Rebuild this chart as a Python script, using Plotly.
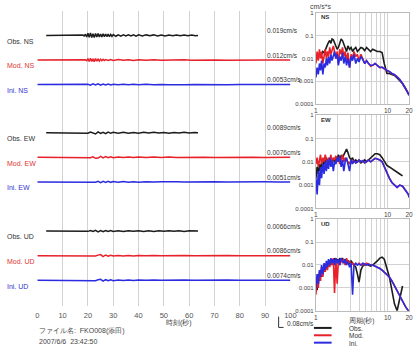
import plotly.graph_objects as go

W, H = 420, 355
FONT = "Arial, Liberation Sans, sans-serif"
BLACK, RED, BLUE = "#1c1c1c", "#e8202a", "#2b2be0"
GRID = "#d2d2d2"

# ---------------- waveform data (values in 0.001 cm/s) ----------------
T_OBS_NS = [3.5, 12, 17, 18, 18.5, 19, 19.5, 20, 20.5, 21, 21.5, 22, 22.5, 23, 23.5, 24, 24.5, 25, 25.5,
            26, 26.5, 27, 27.5, 28, 28.5, 29, 29.5, 30, 31, 32, 33, 34, 35, 36, 37, 38, 39, 40, 41.5, 43,
            44.5, 46, 47.5, 49, 50.5, 52, 53.5, 55, 56.5, 58, 59.5, 61, 62.5, 63.5]
V_OBS_NS = [0, 1, -1, 3, -4, 9, -12, 16, -13, 19, -15, 13, -16, 14, -11, 14, -12, 11, -12, 12, -9, 10,
            -8, 9, -8, 8, -7, 6, -6, 5, -5, 5, -4, 5, -4, 4, -5, 4, -4, 4, -3, 4, -4, 3, -4, 3, -3, 4,
            -3, 3, -3, 3, -2, 0]
T_MOD_NS = [0, 10, 18, 19, 19.5, 20, 20.5, 21, 21.5, 22, 22.5, 23, 23.5, 24, 24.5, 25, 25.5, 26, 26.5,
            27, 28, 29, 30, 32, 34, 36, 38, 40, 43, 46, 49, 52, 55, 58, 61, 64, 67, 70, 75, 80, 85, 90,
            95, 100]
V_MOD_NS = [0, 1, -1, 2, -5, 8, -11, 12, -10, 9, -12, 10, -8, 7, -8, 6, -5, 5, -4, 3, -3, 3, -3, 3, -2,
            2, -3, 2, -2, 2, -2, 1, -1, 2, -1, 1, -1, 1, -1, 1, -1, 1, 0, 0]
T_LONG = [0, 10, 18, 20, 21, 22, 23, 24, 25, 26, 27, 28, 29, 30, 32, 34, 36, 38, 40, 43, 46, 49, 52, 55,
          58, 62, 66, 70, 75, 80, 85, 90, 95, 100]
V_INI_NS = [0, 1, -1, 2, -4, 5, -3, 5, -5, 4, -3, 4, -3, 3, -2, 3, -2, 2, -2, 2, -2, 1, -2, 1, -1, 1,
            -1, 1, -1, 1, -1, 1, 0, 0]
T_OBS_EW = [3.5, 12, 17, 19, 20, 21, 22, 23, 24, 25, 26, 27, 28, 29, 30, 32, 34, 36, 38, 40, 42, 44, 46,
            48, 50, 52, 54, 56, 58, 60, 62, 63.5]
V_OBS_EW = [0, 1, -1, 2, -3, 5, -4, -9, 6, -5, 4, -6, 5, -4, 3, -3, 3, -3, 2, -3, 3, -2, 3, -2, 2, -3,
            2, -2, 3, -2, 2, 0]
V_MOD_EW = [0, 1, -1, 2, -3, 4, -7, -5, 7, -4, 5, -3, 4, -3, 3, -2, 3, -2, 2, -2, 2, -1, 2, -1, 1, -1,
            1, -1, 1, -1, 1, -1, 0, 0]
V_INI_EW = [0, 1, -1, 1, -2, 3, -2, 4, -5, 4, -4, 5, -3, 3, -2, 3, -2, 2, -2, 2, -1, 2, -1, 1, -1, 1,
            -1, 1, -1, 1, -1, 1, 0, 0]
V_OBS_UD = [0, 1, -1, 2, -2, 4, -3, 5, -6, 4, -5, 4, -3, 4, -3, 3, -3, 3, -2, 3, -3, 2, -3, 2, -2, 3,
            -2, 2, -3, 2, -2, 0]
V_MOD_UD = [0, 1, -1, 1, -2, 2, -3, 4, 8, -7, 5, -4, 3, -3, 2, -2, 2, -2, 2, -1, 2, -1, 1, -1, 1, -1,
            1, -1, 1, -1, 1, -1, 0, 0]
V_INI_UD = [0, 1, -1, 1, -2, 2, -3, 3, 7, -6, 4, -4, 3, -3, 2, -2, 2, -2, 2, -1, 2, -1, 1, -1, 1, -1,
            1, -1, 1, -1, 1, -1, 0, 0]

ROW_NAMES = ["Obs. NS", "Mod. NS", "Ini. NS", "Obs. EW", "Mod. EW", "Ini. EW", "Obs. UD", "Mod. UD", "Ini. UD"]
ROW_AMPS = ["0.019cm/s", "0.012cm/s", "0.0053cm/s", "0.0089cm/s", "0.0076cm/s", "0.0051cm/s",
            "0.0066cm/s", "0.0086cm/s", "0.0074cm/s"]
ROW_T = [T_OBS_NS, T_MOD_NS, T_LONG, T_OBS_EW, T_LONG, T_LONG, T_OBS_EW, T_LONG, T_LONG]
ROW_V = [V_OBS_NS, V_MOD_NS, V_INI_NS, V_OBS_EW, V_MOD_EW, V_INI_EW, V_OBS_UD, V_MOD_UD, V_INI_UD]
TIME_TICKS = [0, 10, 20, 30, 40, 50, 60, 70, 80, 90, 100]
SCALE_BAR = 80  # 0.08 cm/s in 0.001 cm/s

# ---------------- spectra ----------------
PERIOD = [1.0, 1.04, 1.08, 1.12, 1.16, 1.2, 1.25, 1.3, 1.35, 1.4, 1.45, 1.5, 1.56, 1.62, 1.68, 1.75, 1.82,
          1.9, 1.98, 2.06, 2.15, 2.25, 2.35, 2.45, 2.56, 2.68, 2.8, 2.95, 3.1, 3.25, 3.4, 3.6, 3.8, 4.0,
          4.25, 4.5, 4.8, 5.1, 5.4, 5.8, 6.2, 6.7, 7.2, 7.8, 8.4, 9.0, 9.8, 10.6, 11.5, 12.5, 13.6, 14.8,
          16.2, 17.8, 19.5, 20]
NS_OBS = [0.008, 0.012, 0.015, 0.012, 0.018, 0.015, 0.02, 0.017, 0.025, 0.03, 0.04, 0.05, 0.06, 0.045,
          0.07, 0.065, 0.05, 0.035, 0.025, 0.03, 0.05, 0.07, 0.06, 0.04, 0.03, 0.02, 0.035, 0.025, 0.03,
          0.02, 0.025, 0.03, 0.02, 0.025, 0.03, 0.028, 0.022, 0.03, 0.025, 0.02, 0.025, 0.022, 0.02, 0.02,
          0.018, 0.006, 0.0022, 0.0022, 0.002, 0.0018, 0.0014, 0.0011, 0.0008, 0.0005, 0.0003, 0.00025]
NS_MOD = [0.006, 0.02, 0.008, 0.025, 0.01, 0.02, 0.006, 0.015, 0.025, 0.01, 0.02, 0.012, 0.03, 0.015,
          0.025, 0.035, 0.02, 0.01, 0.02, 0.006, 0.025, 0.015, 0.03, 0.012, 0.02, 0.008, 0.018, 0.004,
          0.015, 0.01, 0.02, 0.012, 0.015, 0.008, 0.015, 0.01, 0.006, 0.008, 0.006, 0.0045, 0.005, 0.006,
          0.005, 0.004, 0.004, 0.0035, 0.003, 0.0027, 0.0022, 0.002, 0.0016, 0.0012, 0.0008, 0.0005,
          0.0003, 0.00025]
NS_INI = [0.0015, 0.004, 0.002, 0.006, 0.003, 0.008, 0.002, 0.006, 0.004, 0.01, 0.005, 0.012, 0.006,
          0.015, 0.008, 0.012, 0.02, 0.01, 0.015, 0.005, 0.012, 0.008, 0.018, 0.006, 0.012, 0.005, 0.01,
          0.004, 0.012, 0.008, 0.015, 0.006, 0.01, 0.007, 0.012, 0.009, 0.006, 0.008, 0.006, 0.005, 0.005,
          0.006, 0.005, 0.004, 0.0042, 0.0035, 0.003, 0.0027, 0.0022, 0.002, 0.0016, 0.0012, 0.0008,
          0.0005, 0.0003, 0.00025]
EW_OBS = [0.002, 0.006, 0.003, 0.008, 0.004, 0.01, 0.005, 0.012, 0.008, 0.015, 0.01, 0.012, 0.008, 0.015,
          0.01, 0.014, 0.009, 0.016, 0.012, 0.02, 0.014, 0.018, 0.015, 0.02, 0.025, 0.035, 0.025, 0.015,
          0.012, 0.015, 0.01, 0.012, 0.01, 0.011, 0.009, 0.01, 0.012, 0.01, 0.012, 0.015, 0.018, 0.022,
          0.022, 0.02, 0.015, 0.01, 0.007, 0.006, 0.005, 0.004, 0.0035, 0.003, 0.0025, None, None, None]
EW_MOD = [0.008, 0.015, 0.006, 0.012, 0.02, 0.008, 0.015, 0.01, 0.02, 0.012, 0.008, 0.015, 0.01, 0.02,
          0.008, 0.015, 0.012, 0.018, 0.01, 0.015, 0.008, 0.012, 0.02, 0.01, 0.015, 0.012, 0.01, 0.008,
          0.012, 0.01, 0.011, 0.009, 0.01, 0.012, 0.01, 0.011, 0.009, 0.01, 0.012, 0.01, 0.012, 0.014,
          0.013, 0.012, 0.01, 0.006, 0.003, 0.002, 0.0013, 0.001, 0.0008, 0.001, 0.0009, 0.0006, 0.0004,
          0.0003]
EW_INI = [0.002, 0.0004, 0.004, 0.001, 0.006, 0.002, 0.008, 0.003, 0.01, 0.004, 0.012, 0.005, 0.015,
          0.006, 0.012, 0.004, 0.01, 0.008, 0.015, 0.01, 0.018, 0.006, 0.012, 0.004, 0.01, 0.015, 0.008,
          0.004, 0.012, 0.008, 0.011, 0.009, 0.01, 0.012, 0.01, 0.011, 0.009, 0.01, 0.012, 0.01, 0.012,
          0.014, 0.013, 0.012, 0.01, 0.006, 0.003, 0.002, 0.0013, 0.001, 0.0008, 0.001, 0.0009, 0.0006,
          0.0004, 0.0003]
UD_OBS = [0.002, 0.0008, 0.004, 0.002, 0.006, 0.003, 0.008, 0.005, 0.01, 0.007, 0.012, 0.009, 0.015,
          0.01, 0.018, 0.012, 0.02, 0.015, 0.018, 0.012, 0.02, 0.015, 0.02, 0.014, 0.018, 0.012, 0.016,
          0.011, 0.015, 0.012, 0.01, 0.008, 0.004, 0.0018, 0.006, 0.009, 0.01, 0.011, 0.01, 0.009, 0.01,
          0.012, 0.015, 0.02, 0.022, 0.018, 0.008, 0.003, 0.0008, 0.0002, 0.0001, 0.0003, 0.0012, None,
          None, None]
UD_MOD = [0.0005, 0.003, 0.001, 0.005, 0.002, 0.008, 0.003, 0.01, 0.005, 0.012, 0.006, 0.015, 0.008,
          0.018, 0.01, 0.02, 0.0006, 0.02, 0.0015, 0.015, 0.01, 0.02, 0.012, 0.018, 0.01, 0.02, 0.012,
          0.015, 0.01, 0.012, 0.01, 0.011, 0.01, 0.012, 0.01, 0.011, 0.01, 0.012, 0.011, 0.01, 0.01, 0.009,
          0.008, 0.007, 0.006, 0.005, 0.004, 0.003, 0.002, 0.0012, 0.0007, 0.0004, 0.00025, 0.00015,
          0.0001, 0.0001]
UD_INI = [0.001, 0.004, 0.0015, 0.006, 0.003, 0.01, 0.004, 0.012, 0.006, 0.015, 0.008, 0.018, 0.01, 0.02,
          0.012, 0.018, 0.01, 0.02, 0.012, 0.018, 0.01, 0.02, 0.015, 0.012, 0.018, 0.01, 0.014, 0.008,
          0.012, 0.0005, 0.01, 0.012, 0.01, 0.011, 0.01, 0.012, 0.011, 0.01, 0.011, 0.01, 0.01, 0.009,
          0.008, 0.007, 0.006, 0.005, 0.004, 0.003, 0.002, 0.0012, 0.0007, 0.0004, 0.00025, 0.00015,
          0.0001, 0.0001]
SPEC_NAMES = ["NS", "EW", "UD"]
SPEC_DATA = [(NS_OBS, NS_MOD, NS_INI), (EW_OBS, EW_MOD, EW_INI), (UD_OBS, UD_MOD, UD_INI)]
SPEC_YTICKS = [1, 0.1, 0.01, 0.001, 0.0001]
SPEC_YTEXT = ["1", "0.1", "0.01", "0.001", "0.0001"]
SPEC_XGRID = [1, 2, 3, 4, 5, 6, 7, 8, 9, 10, 20]
SPEC_XTEXT = ["1", "", "", "", "", "", "", "", "", "10", "20"]
LEGEND_NAMES = ["Obs.", "Mod.", "Ini."]

# ---------------- layout helpers (pixels -> paper) ----------------
def fx(p):
    return p / W

def fy(p):
    return 1 - p / H

ROW_Y = [33, 58, 83, 132, 157, 182, 232, 257, 282]
ROW_HALF = 11  # px ; range +-80 -> 0.1375 px per 0.001 cm/s
ROW_RANGE = 80
LINE_COLORS = [BLACK, RED, BLUE]
LABEL_COLORS = ["#333333", "#e03535", "#3535d0"]

fig = go.Figure()
layout = dict(
    width=W, height=H, margin=dict(l=0, r=0, t=0, b=0),
    paper_bgcolor="white", plot_bgcolor="rgba(0,0,0,0)", showlegend=False,
    font=dict(family=FONT, size=7, color="#333"),
)
layout["xaxis"] = dict(domain=[fx(36), fx(294)], range=[0, 100], tickvals=TIME_TICKS,
                       showgrid=True, gridcolor=GRID, gridwidth=1.3, zeroline=False,
                       showline=False, ticks="outside", ticklen=2, tickcolor="rgba(0,0,0,0)",
                       tickfont=dict(size=7.5, color="#555"), anchor="y")
layout["yaxis"] = dict(domain=[fy(308), fy(8)], range=[0, 1], visible=False, anchor="x")
# base subplot of the time panel (carries the time axis and its grid)
fig.add_trace(go.Scatter(x=[TIME_TICKS[0], TIME_TICKS[-1]], y=[None, None], mode="lines",
                         xaxis="x", yaxis="y", hoverinfo="skip"))

annotations = []
shapes = []
for i in range(9):
    ya = "yaxis%d" % (i + 2)
    c = ROW_Y[i]
    layout[ya] = dict(domain=[fy(c + ROW_HALF), fy(c - ROW_HALF)], range=[-ROW_RANGE, ROW_RANGE],
                      visible=False, anchor="x")
    fig.add_trace(go.Scatter(x=ROW_T[i], y=ROW_V[i], mode="lines", xaxis="x", yaxis="y%d" % (i + 2),
                             line=dict(color=LINE_COLORS[i % 3], width=1.5), hoverinfo="skip"))
    annotations.append(dict(x=fx(3), y=fy(c + 6), xref="paper", yref="paper", text=ROW_NAMES[i],
                            showarrow=False, xanchor="left", yanchor="middle",
                            font=dict(size=7, color=LABEL_COLORS[i % 3])))
    annotations.append(dict(x=fx(268), y=fy(c - 5), xref="paper", yref="paper", text=ROW_AMPS[i],
                            showarrow=False, xanchor="left", yanchor="middle",
                            font=dict(size=6.5, color="#333")))

# spectra panels
SPEC_TOP = [9.7, 114, 220]
SPEC_BOT = [103, 209, 313]
for k in range(3):
    xa = "xaxis%d" % (k + 2)
    ya = "yaxis%d" % (k + 11)
    layout[xa] = dict(domain=[fx(320), fx(415)], type="log", range=[0, 1.30103], tickvals=SPEC_XGRID,
                      ticktext=SPEC_XTEXT, showgrid=True, gridcolor=GRID, gridwidth=1, zeroline=False,
                      showline=True, linecolor="#bbbbbb", mirror=True, ticks="",
                      tickfont=dict(size=6.5, color="#444"), anchor="y%d" % (k + 11))
    layout[ya] = dict(domain=[fy(SPEC_BOT[k]), fy(SPEC_TOP[k])], type="log", range=[-4, 0],
                      tickvals=SPEC_YTICKS, ticktext=SPEC_YTEXT, showgrid=True, gridcolor=GRID,
                      gridwidth=1, zeroline=False, showline=True, linecolor="#bbbbbb", mirror=True,
                      ticks="", tickfont=dict(size=6, color="#444"), anchor="x%d" % (k + 2))
    for j in range(3):
        fig.add_trace(go.Scatter(x=PERIOD, y=SPEC_DATA[k][j], mode="lines", xaxis="x%d" % (k + 2),
                                 yaxis="y%d" % (k + 11), line=dict(color=LINE_COLORS[j], width=1.6),
                                 connectgaps=False, hoverinfo="skip"))
    annotations.append(dict(x=fx(323), y=fy(SPEC_TOP[k] + 5), xref="paper", yref="paper",
                            text="<b>" + SPEC_NAMES[k] + "</b>", showarrow=False, xanchor="left",
                            yanchor="middle", font=dict(size=6, color="#333")))

annotations += [
    dict(x=fx(312), y=fy(4), xref="paper", yref="paper", text="cm/s*s", showarrow=False,
         xanchor="left", yanchor="middle", font=dict(size=7, color="#444")),
    dict(x=fx(165), y=fy(325), xref="paper", yref="paper", text="時刻(秒)", showarrow=False,
         xanchor="left", yanchor="middle", font=dict(size=7, color="#444")),
    dict(x=fx(352), y=fy(323.5), xref="paper", yref="paper", text="周期(秒)", showarrow=False,
         xanchor="left", yanchor="middle", font=dict(size=6.5, color="#444")),
    dict(x=fx(36), y=fy(334), xref="paper", yref="paper", text="ファイル名:  FKO008(添田)",
         showarrow=False, xanchor="left", yanchor="middle", font=dict(size=7, color="#444")),
    dict(x=fx(36), y=fy(344.5), xref="paper", yref="paper", text="2007/6/6  23:42:50",
         showarrow=False, xanchor="left", yanchor="middle", font=dict(size=7, color="#444")),
    dict(x=fx(288), y=fy(326), xref="paper", yref="paper", text="0.08cm/s", showarrow=False,
         xanchor="left", yanchor="middle", font=dict(size=6.5, color="#333")),
]

# scale bar: height equals SCALE_BAR in waveform units
bar_px = SCALE_BAR * (2 * ROW_HALF) / (2 * ROW_RANGE)
bx, bb = 282, 330
shapes.append(dict(type="path", xref="paper", yref="paper",
                   path="M %f %f L %f %f L %f %f" % (fx(bx), fy(bb - bar_px), fx(bx), fy(bb),
                                                     fx(bx + 5), fy(bb)),
                   line=dict(color="#333", width=1)))

# legend
for j, name in enumerate(LEGEND_NAMES):
    yy = 330.5 + 7.5 * j
    shapes.append(dict(type="line", xref="paper", yref="paper", x0=fx(318), x1=fx(336), y0=fy(yy), y1=fy(yy),
                       line=dict(color=LINE_COLORS[j], width=2)))
    annotations.append(dict(x=fx(352), y=fy(yy + 0.5), xref="paper", yref="paper", text=name,
                            showarrow=False, xanchor="left", yanchor="middle",
                            font=dict(size=6.5, color="#333")))

layout["annotations"] = annotations
layout["shapes"] = shapes
fig.update_layout(**layout)
fig.write_html("out.html")
